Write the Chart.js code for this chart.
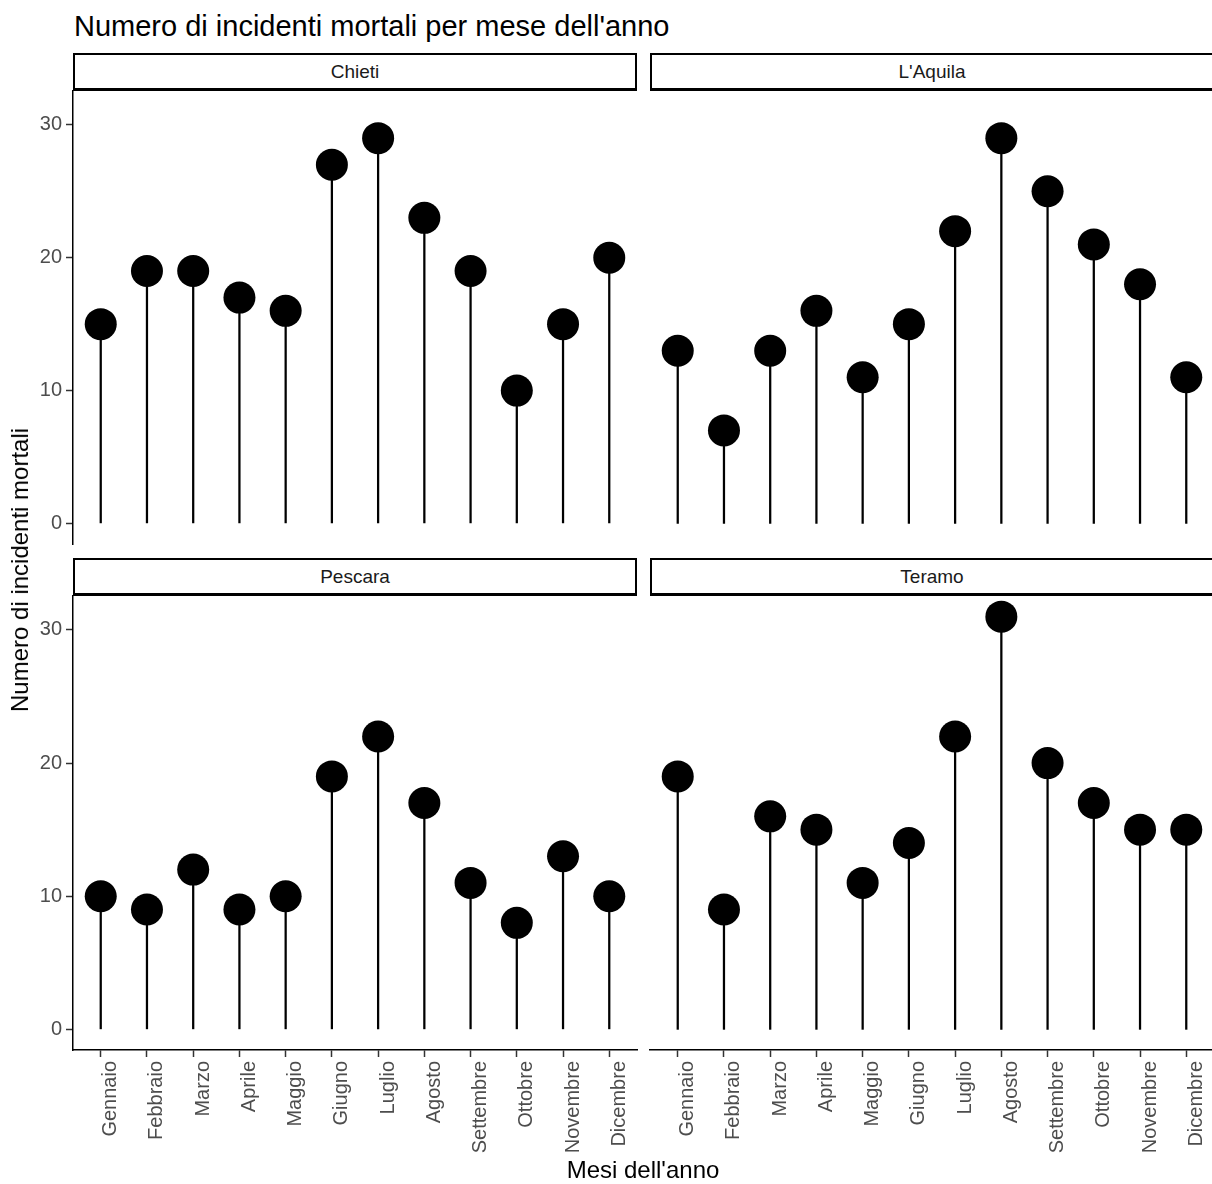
<!DOCTYPE html>
<html>
<head>
<meta charset="utf-8">
<title>Numero di incidenti mortali per mese dell'anno</title>
<script src="https://cdn.jsdelivr.net/npm/chart.js@4.4.0/dist/chart.umd.min.js"></script>
<style>
  body { margin: 0; background: #fff; font-family: "Liberation Sans", Arial, sans-serif; }
  #page { position: relative; width: 1212px; height: 1184px; overflow: hidden; }
  canvas { position: absolute; }
  .strip {
    position: absolute; box-sizing: border-box; height: 38px; width: 564px;
    border: 2px solid #000; border-bottom-width: 3px; background: #fff;
    text-align: center; line-height: 33px; font-size: 19px; color: #1a1a1a;
  }
  #title { position: absolute; left: 74px; top: 10px; font-size: 29px; color: #000; white-space: nowrap; }
  #xtitle { position: absolute; left: 0; width: 1286px; top: 1156px; text-align: center; font-size: 24px; color: #000; }
  #ytitle {
    position: absolute; left: 20px; top: 570px; font-size: 24px; color: #000; white-space: nowrap;
    transform: translate(-50%, -50%) rotate(-90deg);
  }
</style>
</head>
<body>
<div id="page">
  <div id="title">Numero di incidenti mortali per mese dell'anno</div>

  <canvas id="chieti" width="657" height="493" style="left:0;top:71px"></canvas>
  <canvas id="laquila" width="604" height="493" style="left:630px;top:71px"></canvas>
  <canvas id="pescara" width="657" height="584" style="left:0;top:576px"></canvas>
  <canvas id="teramo" width="604" height="584" style="left:630px;top:576px"></canvas>

  <div class="strip" style="left:73px;top:53px">Chieti</div>
  <div class="strip" style="left:650px;top:53px">L'Aquila</div>
  <div class="strip" style="left:73px;top:558px">Pescara</div>
  <div class="strip" style="left:650px;top:558px">Teramo</div>

  <div id="ytitle">Numero di incidenti mortali</div>
  <div id="xtitle">Mesi dell'anno</div>
</div>

<script>
// months on the x axis
const months = ['Gennaio', 'Febbraio', 'Marzo', 'Aprile', 'Maggio', 'Giugno',
  'Luglio', 'Agosto', 'Settembre', 'Ottobre', 'Novembre', 'Dicembre'];

// fatal accidents per month, one array per province
const chieti  = [15, 19, 19, 17, 16, 27, 29, 23, 19, 10, 15, 20];
const laquila = [13, 7, 13, 16, 11, 15, 22, 29, 25, 21, 18, 11];
const pescara = [10, 9, 12, 9, 10, 19, 22, 17, 11, 8, 13, 10];
const teramo  = [19, 9, 16, 15, 11, 14, 22, 31, 20, 17, 15, 15];

const yTicks = [0, 10, 20, 30];

Chart.defaults.font.family = "'Liberation Sans', Arial, sans-serif";
Chart.defaults.color = '#4d4d4d';

// one facet: stems as thin bars, heads as big dots
function makePanel(id, values, showX, showY) {
  const pts = values.map((v, i) => ({ x: i + 1, y: v }));
  const ctx = document.getElementById(id).getContext('2d');
  return new Chart(ctx, {
    type: 'bar',
    data: {
      datasets: [
        {
          type: 'scatter',
          data: pts,
          pointRadius: 16,
          pointHoverRadius: 16,
          backgroundColor: '#000',
          borderWidth: 0,
          order: 1
        },
        {
          type: 'bar',
          data: pts,
          backgroundColor: '#000',
          barThickness: 1.6,
          order: 2
        }
      ]
    },
    options: {
      responsive: false,
      animation: false,
      devicePixelRatio: 1,
      layout: {
        padding: { top: 20, bottom: showX ? 0 : 20, left: showY ? 0 : 20, right: 20 }
      },
      plugins: { legend: { display: false }, tooltip: { enabled: false } },
      scales: {
        x: {
          type: 'linear',
          display: showX,
          offset: false,
          min: 0.4,
          max: 12.6,
          afterBuildTicks: axis => { axis.ticks = months.map((m, i) => ({ value: i + 1 })); },
          afterFit: axis => { if (showX) axis.height = 110; },
          grid: { offset: false, drawOnChartArea: false, drawTicks: true, tickLength: 7, tickWidth: 1.5, tickColor: '#333' },
          border: { display: true, color: '#000', width: 1.5 },
          ticks: {
            autoSkip: false,
            minRotation: 90,
            maxRotation: 90,
            padding: 4,
            labelOffset: 10,
            font: { size: 20 },
            color: '#4d4d4d',
            callback: v => months[v - 1]
          }
        },
        y: {
          display: showY,
          min: -1.55,
          max: 32.55,
          afterBuildTicks: axis => { axis.ticks = yTicks.map(v => ({ value: v })); },
          afterFit: axis => { if (showY) axis.width = 73; },
          grid: { drawOnChartArea: false, drawTicks: true, tickLength: 7, tickWidth: 1.5, tickColor: '#333' },
          border: { display: true, color: '#000', width: 1.5 },
          ticks: { padding: 4, font: { size: 20 }, color: '#4d4d4d' }
        }
      }
    }
  });
}

makePanel('chieti', chieti, false, true);
makePanel('laquila', laquila, false, false);
makePanel('pescara', pescara, true, true);
makePanel('teramo', teramo, true, false);
</script>
</body>
</html>
